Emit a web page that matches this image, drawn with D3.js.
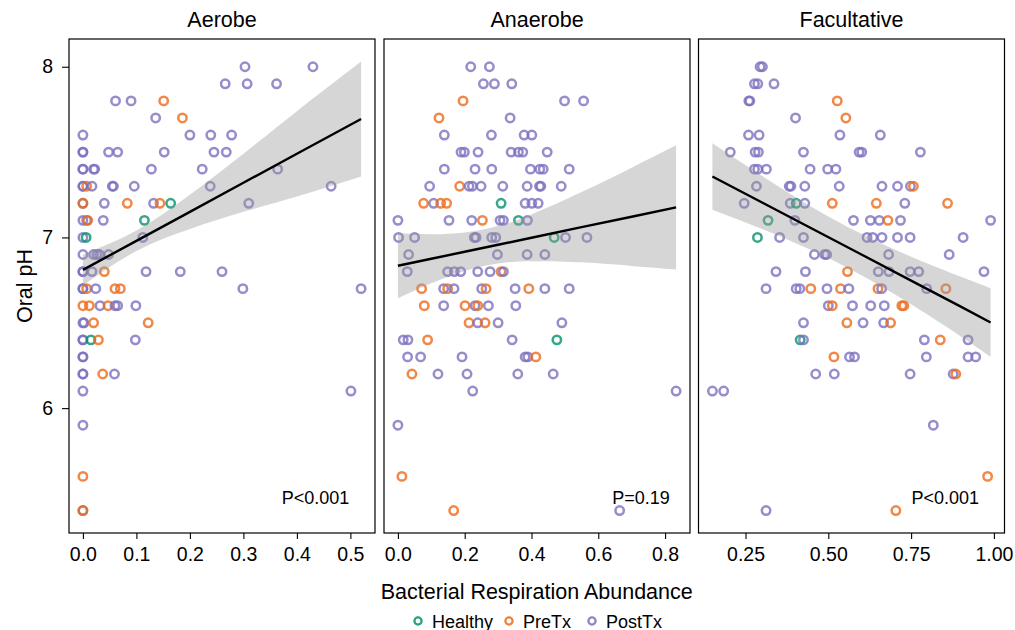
<!DOCTYPE html>
<html>
<head>
<meta charset="utf-8">
<script src="https://cdn.jsdelivr.net/npm/d3@7"></script>
<style>
  body { margin: 0; background: #fff; }
  svg text { font-family: "Liberation Sans", Arial, Helvetica, sans-serif; fill: #000; }
</style>
</head>
<body>
<div class="graph"></div>
<script>
// groups and colours
const groupCodes = ["h", "r", "p"];
const groupNames = ["Healthy", "PreTx", "PostTx"];
const groupColours = ["#00936d", "#ee6a1a", "#7a70bf"];

const panelNames = ["Aerobe", "Anaerobe", "Facultative"];

// points: [abundance, oral pH, group code]
const aerobePoints = [
  [0.303, 8.0, "p"], [0.43, 8.0, "p"],
  [0.266, 7.9, "p"], [0.307, 7.9, "p"], [0.362, 7.9, "p"],
  [0.061, 7.8, "p"], [0.09, 7.8, "p"], [0.151, 7.8, "r"],
  [0.136, 7.7, "p"], [0.186, 7.7, "r"],
  [0, 7.6, "p"], [0.2, 7.6, "p"], [0.239, 7.6, "p"], [0.278, 7.6, "p"],
  [0, 7.5, "p"], [0, 7.5, "p"], [0.048, 7.5, "p"], [0.065, 7.5, "p"], [0.152, 7.5, "p"], [0.245, 7.5, "p"], [0.268, 7.5, "p"],
  [0, 7.4, "p"], [0, 7.4, "p"], [0.02, 7.4, "p"], [0.022, 7.4, "p"], [0.128, 7.4, "p"], [0.223, 7.4, "p"], [0.364, 7.4, "p"],
  [0, 7.3, "p"], [0, 7.3, "p"], [0.007, 7.3, "r"], [0.017, 7.3, "p"], [0.055, 7.3, "p"], [0.057, 7.3, "p"], [0.096, 7.3, "p"], [0.238, 7.3, "p"], [0.464, 7.3, "p"],
  [0, 7.2, "p"], [0, 7.2, "r"], [0.04, 7.2, "p"], [0.083, 7.2, "r"], [0.132, 7.2, "p"], [0.144, 7.2, "r"], [0.164, 7.2, "h"], [0.31, 7.2, "p"],
  [0, 7.1, "p"], [0.007, 7.1, "p"], [0.009, 7.1, "r"], [0.038, 7.1, "p"], [0.115, 7.1, "h"],
  [0, 7.0, "p"], [0.006, 7.0, "h"], [0.112, 7.0, "p"],
  [0, 6.9, "p"], [0.02, 6.9, "p"], [0.026, 6.9, "p"], [0.031, 6.9, "p"], [0.048, 6.9, "p"],
  [0, 6.8, "p"], [0, 6.8, "p"], [0.017, 6.8, "p"], [0.04, 6.8, "r"], [0.118, 6.8, "p"], [0.182, 6.8, "p"], [0.26, 6.8, "p"],
  [0, 6.7, "p"], [0, 6.7, "p"], [0.007, 6.7, "r"], [0.024, 6.7, "p"], [0.06, 6.7, "r"], [0.07, 6.7, "r"], [0.299, 6.7, "p"], [0.52, 6.7, "p"],
  [0, 6.6, "r"], [0.012, 6.6, "r"], [0.032, 6.6, "p"], [0.047, 6.6, "r"], [0.06, 6.6, "p"], [0.065, 6.6, "p"], [0.099, 6.6, "p"],
  [0, 6.5, "p"], [0.002, 6.5, "p"], [0.02, 6.5, "r"], [0.122, 6.5, "r"],
  [0, 6.4, "p"], [0, 6.4, "p"], [0.015, 6.4, "h"], [0.029, 6.4, "r"], [0.098, 6.4, "p"],
  [0, 6.3, "p"], [0, 6.3, "p"],
  [0, 6.2, "p"], [0, 6.2, "p"], [0.037, 6.2, "r"], [0.059, 6.2, "p"],
  [0, 6.1, "p"], [0.501, 6.1, "p"],
  [0, 5.9, "p"],
  [0, 5.6, "r"],
  [0, 5.4, "p"], [0, 5.4, "r"]
];

const anaerobePoints = [
  [0.218, 8.0, "p"], [0.274, 8.0, "p"],
  [0.256, 7.9, "p"], [0.289, 7.9, "p"], [0.341, 7.9, "p"],
  [0.195, 7.8, "r"], [0.499, 7.8, "p"], [0.556, 7.8, "p"],
  [0.123, 7.7, "r"], [0.336, 7.7, "p"],
  [0.139, 7.6, "p"], [0.28, 7.6, "p"], [0.378, 7.6, "p"], [0.401, 7.6, "p"],
  [0.189, 7.5, "p"], [0.199, 7.5, "p"], [0.24, 7.5, "p"], [0.339, 7.5, "p"], [0.361, 7.5, "p"], [0.374, 7.5, "p"], [0.447, 7.5, "p"],
  [0.139, 7.4, "p"], [0.231, 7.4, "p"], [0.281, 7.4, "p"], [0.397, 7.4, "p"], [0.425, 7.4, "p"], [0.435, 7.4, "p"], [0.513, 7.4, "p"],
  [0.095, 7.3, "p"], [0.185, 7.3, "r"], [0.213, 7.3, "p"], [0.223, 7.3, "p"], [0.249, 7.3, "p"], [0.314, 7.3, "p"], [0.387, 7.3, "p"], [0.424, 7.3, "p"], [0.428, 7.3, "p"], [0.489, 7.3, "p"],
  [0.077, 7.2, "r"], [0.107, 7.2, "p"], [0.128, 7.2, "r"], [0.146, 7.2, "r"], [0.309, 7.2, "h"], [0.381, 7.2, "p"], [0.401, 7.2, "p"], [0.42, 7.2, "p"],
  [0, 7.1, "p"], [0.153, 7.1, "p"], [0.221, 7.1, "p"], [0.253, 7.1, "r"], [0.306, 7.1, "p"], [0.316, 7.1, "p"], [0.361, 7.1, "h"], [0.388, 7.1, "p"],
  [0.002, 7.0, "p"], [0.05, 7.0, "p"], [0.229, 7.0, "p"], [0.234, 7.0, "p"], [0.281, 7.0, "p"], [0.293, 7.0, "p"], [0.468, 7.0, "h"], [0.502, 7.0, "p"], [0.566, 7.0, "p"],
  [0.032, 6.9, "p"], [0.298, 6.9, "p"], [0.387, 6.9, "p"], [0.44, 6.9, "p"],
  [0.028, 6.8, "p"], [0.149, 6.8, "p"], [0.169, 6.8, "p"], [0.188, 6.8, "p"], [0.239, 6.8, "p"], [0.276, 6.8, "p"], [0.309, 6.8, "r"], [0.316, 6.8, "p"],
  [0.071, 6.7, "r"], [0.137, 6.7, "p"], [0.149, 6.7, "r"], [0.168, 6.7, "p"], [0.251, 6.7, "p"], [0.264, 6.7, "r"], [0.351, 6.7, "p"], [0.392, 6.7, "r"], [0.44, 6.7, "p"], [0.513, 6.7, "p"],
  [0.079, 6.6, "r"], [0.137, 6.6, "p"], [0.201, 6.6, "r"], [0.231, 6.6, "p"], [0.239, 6.6, "r"], [0.271, 6.6, "p"], [0.353, 6.6, "p"],
  [0.213, 6.5, "r"], [0.239, 6.5, "p"], [0.261, 6.5, "r"], [0.3, 6.5, "p"], [0.491, 6.5, "p"],
  [0.016, 6.4, "p"], [0.03, 6.4, "p"], [0.089, 6.4, "r"], [0.342, 6.4, "p"], [0.476, 6.4, "h"],
  [0.029, 6.3, "p"], [0.068, 6.3, "p"], [0.192, 6.3, "p"], [0.381, 6.3, "p"], [0.389, 6.3, "p"], [0.413, 6.3, "r"],
  [0.042, 6.2, "r"], [0.12, 6.2, "p"], [0.207, 6.2, "p"], [0.359, 6.2, "p"], [0.465, 6.2, "p"],
  [0.224, 6.1, "p"], [0.833, 6.1, "p"],
  [0, 5.9, "p"],
  [0.012, 5.6, "r"],
  [0.167, 5.4, "r"], [0.664, 5.4, "p"]
];

const facultativePoints = [
  [0.294, 8.0, "p"], [0.301, 8.0, "p"],
  [0.277, 7.9, "p"], [0.287, 7.9, "p"], [0.336, 7.9, "p"],
  [0.26, 7.8, "p"], [0.263, 7.8, "p"], [0.527, 7.8, "r"],
  [0.401, 7.7, "p"], [0.553, 7.7, "r"],
  [0.259, 7.6, "p"], [0.291, 7.6, "p"], [0.535, 7.6, "p"], [0.657, 7.6, "p"],
  [0.204, 7.5, "p"], [0.279, 7.5, "p"], [0.289, 7.5, "p"], [0.425, 7.5, "p"], [0.593, 7.5, "p"], [0.601, 7.5, "p"], [0.778, 7.5, "p"],
  [0.277, 7.4, "p"], [0.287, 7.4, "p"], [0.313, 7.4, "p"], [0.445, 7.4, "p"], [0.498, 7.4, "p"], [0.523, 7.4, "p"],
  [0.283, 7.3, "p"], [0.382, 7.3, "p"], [0.387, 7.3, "p"], [0.429, 7.3, "p"], [0.533, 7.3, "p"], [0.662, 7.3, "p"], [0.709, 7.3, "p"], [0.748, 7.3, "p"], [0.757, 7.3, "r"],
  [0.246, 7.2, "p"], [0.385, 7.2, "p"], [0.403, 7.2, "h"], [0.429, 7.2, "p"], [0.512, 7.2, "r"], [0.645, 7.2, "r"], [0.731, 7.2, "p"], [0.86, 7.2, "r"],
  [0.318, 7.1, "h"], [0.399, 7.1, "p"], [0.576, 7.1, "p"], [0.627, 7.1, "p"], [0.654, 7.1, "p"], [0.68, 7.1, "r"], [0.718, 7.1, "p"], [0.99, 7.1, "p"],
  [0.286, 7.0, "h"], [0.353, 7.0, "p"], [0.425, 7.0, "p"], [0.617, 7.0, "p"], [0.634, 7.0, "p"], [0.662, 7.0, "p"], [0.709, 7.0, "p"], [0.747, 7.0, "p"], [0.907, 7.0, "p"],
  [0.458, 6.9, "p"], [0.489, 6.9, "p"], [0.495, 6.9, "p"], [0.682, 6.9, "p"], [0.865, 6.9, "p"],
  [0.342, 6.8, "p"], [0.431, 6.8, "p"], [0.558, 6.8, "r"], [0.651, 6.8, "p"], [0.683, 6.8, "p"], [0.747, 6.8, "p"], [0.773, 6.8, "p"], [0.97, 6.8, "p"],
  [0.312, 6.7, "p"], [0.403, 6.7, "p"], [0.414, 6.7, "p"], [0.447, 6.7, "r"], [0.496, 6.7, "p"], [0.537, 6.7, "r"], [0.562, 6.7, "p"], [0.65, 6.7, "r"], [0.661, 6.7, "p"], [0.797, 6.7, "p"], [0.855, 6.7, "r"],
  [0.5, 6.6, "p"], [0.512, 6.6, "r"], [0.573, 6.6, "p"], [0.628, 6.6, "p"], [0.669, 6.6, "p"], [0.722, 6.6, "r"], [0.728, 6.6, "r"],
  [0.425, 6.5, "p"], [0.556, 6.5, "r"], [0.605, 6.5, "p"], [0.667, 6.5, "p"], [0.688, 6.5, "r"],
  [0.415, 6.4, "h"], [0.425, 6.4, "p"], [0.79, 6.4, "p"], [0.838, 6.4, "r"], [0.922, 6.4, "p"],
  [0.517, 6.3, "r"], [0.564, 6.3, "p"], [0.579, 6.3, "p"], [0.796, 6.3, "p"], [0.922, 6.3, "p"], [0.945, 6.3, "p"],
  [0.462, 6.2, "p"], [0.518, 6.2, "p"], [0.747, 6.2, "p"], [0.877, 6.2, "p"], [0.885, 6.2, "r"],
  [0.15, 6.1, "p"], [0.184, 6.1, "p"],
  [0.817, 5.9, "p"],
  [0.981, 5.6, "r"],
  [0.312, 5.4, "p"], [0.704, 5.4, "r"]
];

// linear fit and its 95% band
const aerobeFitX = [0, 0.1, 0.2, 0.3, 0.4, 0.52];
const aerobeFit = [6.81, 6.98, 7.15, 7.32, 7.49, 7.694];
const aerobeLo = [6.72, 6.92, 7.05, 7.15, 7.24, 7.357];
const aerobeHi = [6.90, 7.04, 7.25, 7.49, 7.74, 8.031];

const anaerobeFitX = [0, 0.1, 0.2, 0.3, 0.4, 0.55, 0.7, 0.833];
const anaerobeFit = [6.834, 6.875, 6.916, 6.957, 6.998, 7.060, 7.121, 7.176];
const anaerobeLo = [6.644, 6.731, 6.804, 6.847, 6.861, 6.854, 6.833, 6.812];
const anaerobeHi = [7.024, 7.019, 7.029, 7.067, 7.135, 7.266, 7.409, 7.540];

const facultativeFitX = [0.15, 0.3, 0.45, 0.6, 0.75, 0.9, 0.99];
const facultativeFit = [7.357, 7.205, 7.052, 6.900, 6.747, 6.595, 6.502];
const facultativeLo = [7.162, 7.050, 6.925, 6.779, 6.608, 6.420, 6.301];
const facultativeHi = [7.552, 7.360, 7.179, 7.021, 6.887, 6.770, 6.703];

// ticks and annotations
const xTicks = [[0, 0.1, 0.2, 0.3, 0.4, 0.5], [0, 0.2, 0.4, 0.6, 0.8], [0.25, 0.5, 0.75, 1.0]];
const xTickLabels = [["0.0", "0.1", "0.2", "0.3", "0.4", "0.5"], ["0.0", "0.2", "0.4", "0.6", "0.8"], ["0.25", "0.50", "0.75", "1.00"]];
const yTicks = [6, 7, 8];
const yTickLabels = ["6", "7", "8"];
const pLabels = ["P<0.001", "P=0.19", "P<0.001"];
const pLabelX = [0.498, 0.814, 0.955];
const pLabelY = 5.44;

const panels = [
  { name: panelNames[0], pts: aerobePoints, fx: aerobeFitX, fit: aerobeFit, lo: aerobeLo, hi: aerobeHi },
  { name: panelNames[1], pts: anaerobePoints, fx: anaerobeFitX, fit: anaerobeFit, lo: anaerobeLo, hi: anaerobeHi },
  { name: panelNames[2], pts: facultativePoints, fx: facultativeFitX, fit: facultativeFit, lo: facultativeLo, hi: facultativeHi }
];

// dimensions
const W = 1015, H = 630;
const panelTop = 39, panelBottom = 533;
const panelLeft = [69, 384, 698.5];
const panelWidth = 306;
const tickFont = "19.5px";

// ggplot style 5% expansion
function expand(ext) {
  const pad = (ext[1] - ext[0]) * 0.05;
  return [ext[0] - pad, ext[1] + pad];
}

const allY = [];
panels.forEach(p => {
  p.pts.forEach(d => allY.push(d[1]));
  p.lo.forEach(v => allY.push(v));
  p.hi.forEach(v => allY.push(v));
});
const y = d3.scaleLinear().domain(expand(d3.extent(allY))).range([panelBottom, panelTop]);

const svg = d3.select(".graph").append("svg")
  .attr("width", W)
  .attr("height", H);

const colourOf = code => groupColours[groupCodes.indexOf(code)];

panels.forEach((p, i) => {
  const x = d3.scaleLinear()
    .domain(expand(d3.extent(p.pts, d => d[0])))
    .range([panelLeft[i], panelLeft[i] + panelWidth]);

  const g = svg.append("g");

  // points
  g.selectAll("circle.pt")
    .data(p.pts)
    .enter()
    .append("circle")
    .attr("class", "pt")
    .attr("cx", d => x(d[0]))
    .attr("cy", d => y(d[1]))
    .attr("r", 4.2)
    .attr("fill", "none")
    .attr("stroke", d => colourOf(d[2]))
    .attr("stroke-opacity", 0.8)
    .attr("stroke-width", 2.5);

  // confidence band
  const band = p.fx.map((v, k) => ({ x: v, lo: p.lo[k], hi: p.hi[k], fit: p.fit[k] }));
  g.append("path")
    .datum(band)
    .attr("fill", "#999999")
    .attr("fill-opacity", 0.4)
    .attr("d", d3.area()
      .curve(d3.curveNatural)
      .x(d => x(d.x))
      .y0(d => y(d.lo))
      .y1(d => y(d.hi)));

  // fitted line
  g.append("path")
    .datum(band)
    .attr("fill", "none")
    .attr("stroke", "#000")
    .attr("stroke-width", 2.4)
    .attr("d", d3.line().x(d => x(d.x)).y(d => y(d.fit)));

  // panel border
  g.append("rect")
    .attr("x", panelLeft[i])
    .attr("y", panelTop)
    .attr("width", panelWidth)
    .attr("height", panelBottom - panelTop)
    .attr("fill", "none")
    .attr("stroke", "#000")
    .attr("stroke-width", 1.2);

  // strip title
  g.append("text")
    .attr("x", panelLeft[i] + panelWidth / 2)
    .attr("y", 27)
    .attr("text-anchor", "middle")
    .style("font-size", "21.5px")
    .text(p.name);

  // p value
  g.append("text")
    .attr("x", x(pLabelX[i]))
    .attr("y", y(pLabelY))
    .attr("text-anchor", "end")
    .style("font-size", "18px")
    .text(pLabels[i]);

  // x axis
  const xAxis = d3.axisBottom(x)
    .tickValues(xTicks[i])
    .tickFormat((d, k) => xTickLabels[i][k])
    .tickSizeInner(6)
    .tickSizeOuter(0)
    .tickPadding(8);
  const ax = svg.append("g")
    .attr("transform", "translate(0," + panelBottom + ")")
    .call(xAxis);
  ax.select(".domain").remove();
  ax.selectAll("line").attr("stroke", "#000").attr("stroke-width", 1.1);
  ax.selectAll("text").style("font-size", tickFont).attr("fill", "#000").attr("font-family", null);
});

// y axis
const yAxis = d3.axisLeft(y)
  .tickValues(yTicks)
  .tickFormat((d, k) => yTickLabels[k])
  .tickSizeInner(7)
  .tickSizeOuter(0)
  .tickPadding(9);
const ay = svg.append("g")
  .attr("transform", "translate(" + panelLeft[0] + ",0)")
  .call(yAxis);
ay.select(".domain").remove();
ay.selectAll("line").attr("stroke", "#000").attr("stroke-width", 1.1);
ay.selectAll("text").style("font-size", tickFont).attr("fill", "#000").attr("font-family", null);

// axis titles
svg.append("text")
  .attr("transform", "translate(32," + ((panelTop + panelBottom) / 2) + ") rotate(-90)")
  .attr("text-anchor", "middle")
  .style("font-size", "21.5px")
  .text("Oral pH");

svg.append("text")
  .attr("x", (panelLeft[0] + panelLeft[2] + panelWidth) / 2)
  .attr("y", 599)
  .attr("text-anchor", "middle")
  .style("font-size", "21.5px")
  .text("Bacterial Respiration Abundance");

// legend
const legendX = [418, 509, 592];
const legend = svg.append("g");
groupNames.forEach((name, k) => {
  legend.append("circle")
    .attr("cx", legendX[k])
    .attr("cy", 621)
    .attr("r", 3.6)
    .attr("fill", "none")
    .attr("stroke", groupColours[k])
    .attr("stroke-opacity", 0.85)
    .attr("stroke-width", 2.3);
  legend.append("text")
    .attr("x", legendX[k] + 14)
    .attr("y", 627.5)
    .style("font-size", "18px")
    .text(name);
});
</script>
</body>
</html>
